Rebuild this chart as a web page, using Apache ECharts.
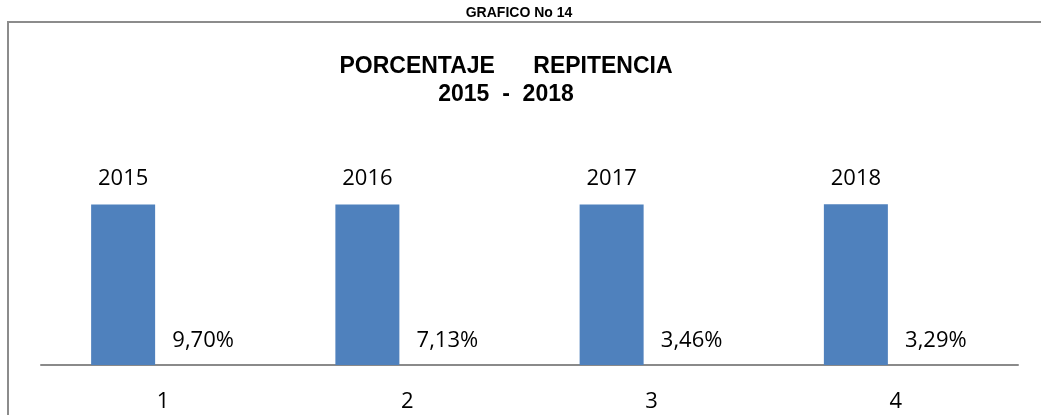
<!DOCTYPE html>
<html>
<head>
<meta charset="utf-8">
<script src="https://cdn.jsdelivr.net/npm/echarts@6/dist/echarts.min.js"></script>
<style>
  html, body { margin: 0; padding: 0; background: #fff; }
  #chart { width: 1041px; height: 415px; }
</style>
</head>
<body>
<div id="chart"></div>
<script>
const categories = ['1', '2', '3', '4']
const years = [2015, 2016, 2017, 2018]
const percentages = [0.0970, 0.0713, 0.0346, 0.0329]

const myChart = echarts.init(document.getElementById('chart'))

const labelFont = '"Open Sans", "Liberation Sans", sans-serif'

const option = {
  backgroundColor: '#fff',
  animation: false,
  title: [
    {
      text: 'GRAFICO No 14',
      left: 514,
      top: 1,
      textAlign: 'center',
      textStyle: { fontFamily: '"Liberation Sans", Arial', fontWeight: 'bold', fontSize: 14, color: '#000' }
    },
    {
      text: 'PORCENTAJE      REPITENCIA\n2015  -  2018',
      left: 501,
      top: 48,
      textAlign: 'center',
      textStyle: { fontFamily: '"Liberation Sans", Arial', fontWeight: 'bold', fontSize: 23, lineHeight: 28, color: '#000' }
    }
  ],
  graphic: [
    {
      type: 'rect',
      shape: { x: 8, y: 22, width: 1050, height: 420 },
      style: { fill: null, stroke: '#8c8c8c', lineWidth: 2 },
      silent: true
    }
  ],
  grid: {
    left: 41,
    right: 23,
    top: 166,
    bottom: 50,
    containLabel: false
  },
  xAxis: {
    type: 'category',
    data: categories,
    axisTick: { show: false },
    axisLine: { lineStyle: { color: '#8a8a8a', width: 2 } },
    axisLabel: { color: '#000', fontSize: 22, fontFamily: labelFont, margin: 26 }
  },
  yAxis: {
    type: 'value',
    min: 0,
    max: 2500,
    show: false,
    splitLine: { show: false }
  },
  series: [
    {
      name: 'Año',
      type: 'bar',
      data: years,
      barWidth: 64,
      barGap: '25%',
      itemStyle: { color: '#4f81bd' },
      label: {
        show: true,
        position: 'top',
        distance: 15,
        color: '#000',
        fontSize: 22,
        fontFamily: labelFont
      }
    },
    {
      name: 'Porcentaje',
      type: 'bar',
      data: percentages,
      barWidth: 64,
      itemStyle: { color: '#c0504d' },
      label: {
        show: true,
        position: 'top',
        distance: 13,
        color: '#000',
        fontSize: 22,
        fontFamily: labelFont,
        formatter: p => (p.value * 100).toFixed(2).replace('.', ',') + '%'
      }
    }
  ]
}

myChart.setOption(option)
</script>
</body>
</html>
